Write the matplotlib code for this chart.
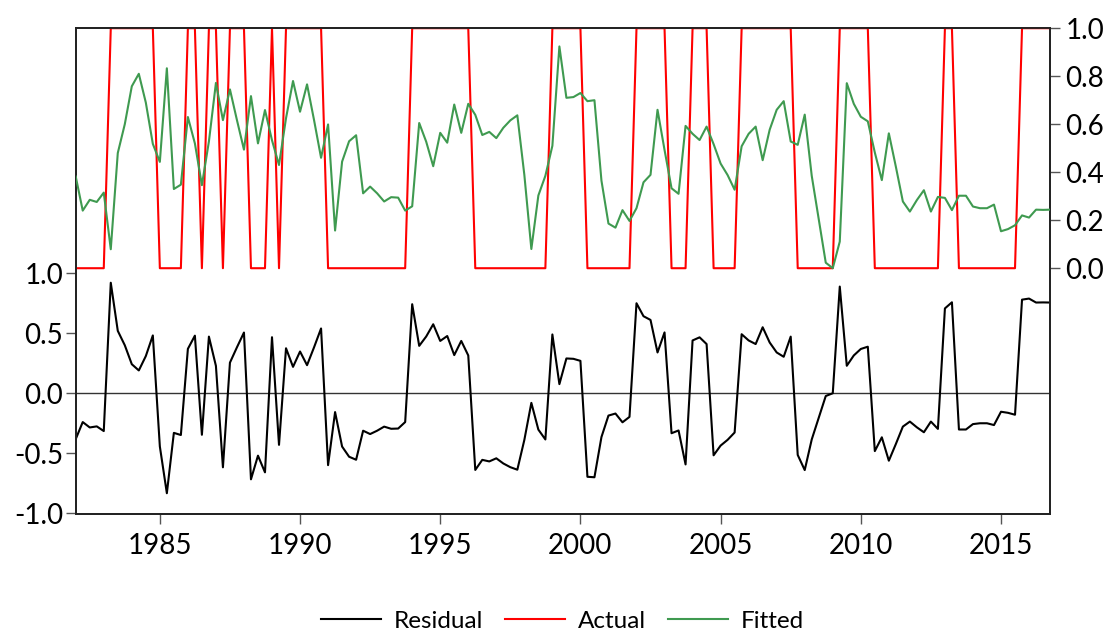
import numpy as np
import pandas as pd
import matplotlib
matplotlib.use("Agg")
import matplotlib.pyplot as plt
from matplotlib.lines import Line2D

plt.rcParams['font.family'] = ['Lato', 'DejaVu Sans']
plt.rcParams['axes.unicode_minus'] = False

# quarterly sample 1982Q1 - 2016Q4
quarters = pd.period_range('1982Q1', periods=140, freq='Q')

# actual (0/1) series
actual = [0, 0, 0, 0, 0, 1, 1, 1, 1, 1, 1, 1, 0, 0, 0, 0, 1, 1, 0, 1,
          1, 0, 1, 1, 1, 0, 0, 0, 1, 0, 1, 1, 1, 1, 1, 1, 0, 0, 0, 0,
          0, 0, 0, 0, 0, 0, 0, 0, 1, 1, 1, 1, 1, 1, 1, 1, 1, 0, 0, 0,
          0, 0, 0, 0, 0, 0, 0, 0, 1, 1, 1, 1, 1, 0, 0, 0, 0, 0, 0, 0,
          1, 1, 1, 1, 1, 0, 0, 0, 1, 1, 1, 0, 0, 0, 0, 1, 1, 1, 1, 1,
          1, 1, 1, 0, 0, 0, 0, 0, 0, 1, 1, 1, 1, 1, 0, 0, 0, 0, 0, 0,
          0, 0, 0, 0, 1, 1, 0, 0, 0, 0, 0, 0, 0, 0, 0, 1, 1, 1, 1, 1]

# fitted probabilities
fitted = [0.382, 0.240, 0.285, 0.276, 0.315, 0.079, 0.480, 0.600, 0.758, 0.810,
          0.690, 0.518, 0.443, 0.833, 0.330, 0.348, 0.630, 0.520, 0.346, 0.528,
          0.772, 0.617, 0.745, 0.617, 0.494, 0.717, 0.520, 0.659, 0.533, 0.430,
          0.625, 0.780, 0.652, 0.766, 0.617, 0.460, 0.599, 0.157, 0.444, 0.529,
          0.554, 0.312, 0.340, 0.312, 0.278, 0.296, 0.294, 0.240, 0.258, 0.605,
          0.527, 0.425, 0.564, 0.523, 0.682, 0.564, 0.685, 0.639, 0.555, 0.568,
          0.542, 0.585, 0.616, 0.637, 0.389, 0.080, 0.303, 0.385, 0.510, 0.924,
          0.710, 0.713, 0.730, 0.696, 0.700, 0.365, 0.186, 0.169, 0.242, 0.197,
          0.250, 0.358, 0.389, 0.660, 0.493, 0.333, 0.310, 0.593, 0.560, 0.534,
          0.590, 0.517, 0.436, 0.388, 0.327, 0.508, 0.560, 0.590, 0.450, 0.577,
          0.660, 0.696, 0.528, 0.514, 0.640, 0.385, 0.205, 0.023, 0.000, 0.111,
          0.771, 0.685, 0.631, 0.612, 0.482, 0.367, 0.562, 0.423, 0.278, 0.236,
          0.284, 0.325, 0.236, 0.297, 0.293, 0.242, 0.302, 0.302, 0.257, 0.250,
          0.250, 0.265, 0.154, 0.163, 0.179, 0.220, 0.211, 0.244, 0.243, 0.244]

# residual = actual - fitted
residual = np.array(actual) - np.array(fitted)

x = quarters.year + (quarters.quarter - 1) / 4.0

left_ticks = [-1.0, -0.5, 0.0, 0.5, 1.0]
right_ticks = [0.0, 0.2, 0.4, 0.6, 0.8, 1.0]
year_ticks = [1985, 1990, 1995, 2000, 2005, 2010, 2015]

c_red = '#ff0000'
c_green = '#3f9a50'
c_black = '#000000'

fig = plt.figure(figsize=(11.12, 6.34), dpi=100)
ax = fig.add_axes([0.0681, 0.1893, 0.8762, 0.7666])
ax2 = ax.twinx()

ax.axhline(0, color='#333333', lw=1.0, zorder=1)
ax.plot(x, residual, color=c_black, lw=1.5, zorder=2)
ax2.plot(x, actual, color=c_red, lw=1.5, zorder=2)
ax2.plot(x, fitted, color=c_green, lw=1.5, zorder=3)

ax.set_xlim(x[0], x[-1])
ax.set_ylim(-1.006, 3.044)
ax2.set_ylim(-1.024, 1.001)

ax.set_yticks(left_ticks)
ax.set_yticklabels(['%.1f' % v for v in left_ticks])
ax2.set_yticks(right_ticks)
ax2.set_yticklabels(['%.1f' % v for v in right_ticks])
ax.set_xticks(year_ticks)
ax.set_xticklabels([str(y) for y in year_ticks])

for a in (ax, ax2):
    for s in a.spines.values():
        s.set_color('#222222')
        s.set_linewidth(1.3)
ax.tick_params(axis='y', direction='out', length=7, width=1, color='#555555',
               labelsize=20, pad=2)
ax.tick_params(axis='x', direction='out', length=7, width=1, color='#555555',
               labelsize=20, pad=7)
ax2.tick_params(axis='y', direction='out', length=7, width=1, color='#555555',
                labelsize=20, pad=4)

handles = [Line2D([], [], color=c_black, lw=1.5),
           Line2D([], [], color=c_red, lw=1.5),
           Line2D([], [], color=c_green, lw=1.5)]
fig.legend(handles, ['Residual', 'Actual', 'Fitted'], loc='center',
           bbox_to_anchor=(0.506, 0.0205), ncol=3, frameon=False,
           fontsize=17.5, handlelength=2.45, handletextpad=0.55,
           columnspacing=0.9)

fig.savefig('out.png', dpi=100)
